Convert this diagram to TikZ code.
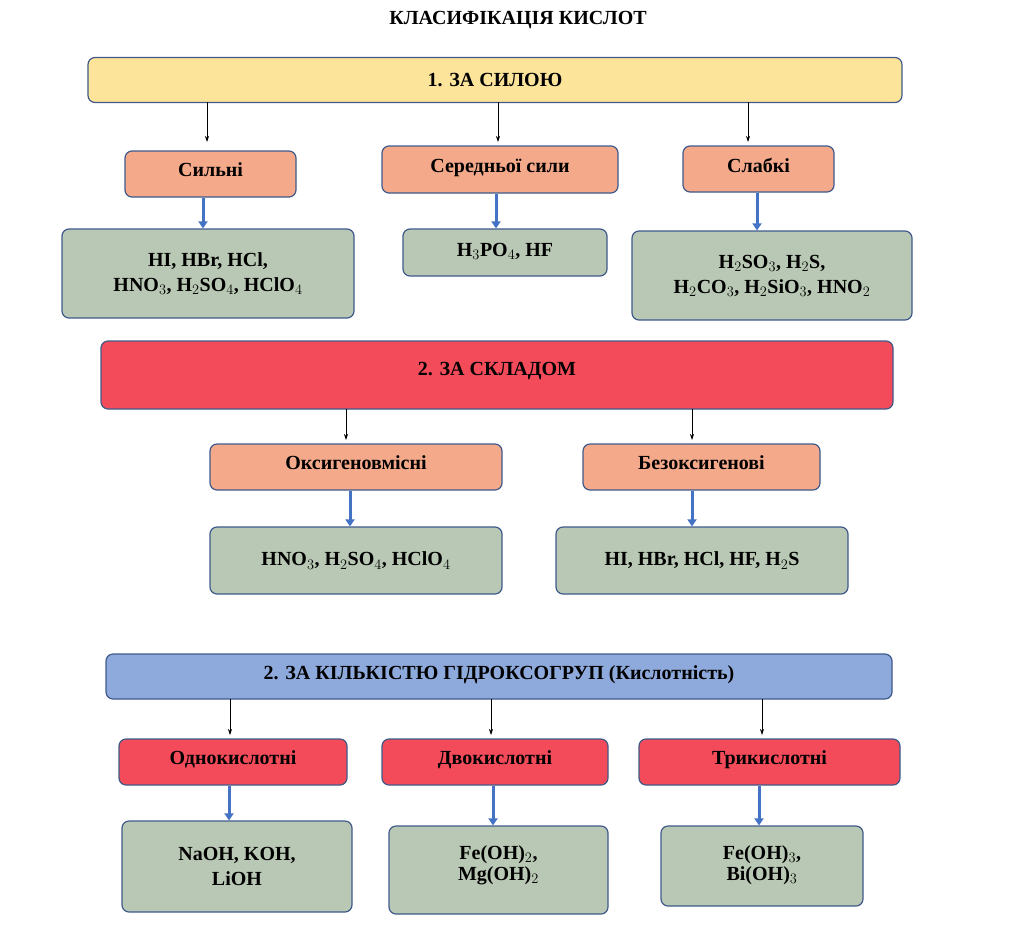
\documentclass[tikz,border=0pt]{standalone}
\usepackage{fontspec}
\setmainfont{Liberation Serif}
\usetikzlibrary{arrows.meta,positioning}
\definecolor{hdryel}{HTML}{FCE49A}
\definecolor{hdrred}{HTML}{F44B5A}
\definecolor{hdrblue}{HTML}{8EA9DB}
\definecolor{salmon}{HTML}{F4A98A}
\definecolor{sage}{HTML}{B9C8B4}
\definecolor{edge}{HTML}{3F5A8A}
\definecolor{thick}{HTML}{4472C4}

\begin{document}
\begin{tikzpicture}[x=1pt,y=-1pt,font=\fontsize{20}{25}\selectfont\bfseries,
  box/.style={draw=edge, line width=1.2pt, rounded corners=7pt, inner sep=0pt, align=center},
  thin/.style={-{Stealth[length=6pt,width=4pt]}, line width=0.7pt},
  fat/.style={-{Triangle[length=7pt,width=9pt]}, line width=3pt, draw=thick}]

\useasboundingbox (0,0) rectangle (1024,927);

\node (title) at (518,20) {КЛАСИФІКАЦІЯ КИСЛОТ};

% 1. за силою
\node[box, fill=hdryel, minimum width=814pt, minimum height=45pt] (h1) at (495,80) {1. ЗА СИЛОЮ};
\node[box, fill=salmon, minimum width=171pt, minimum height=46pt] (s1) at (210.5,174) {\raisebox{8pt}{Сильні}};
\node[box, fill=salmon, minimum width=236pt, minimum height=47pt] (s2) at (500,169.5) {\raisebox{8pt}{Середньої сили}};
\node[box, fill=salmon, minimum width=151pt, minimum height=46pt] (s3) at (758.5,169) {\raisebox{8pt}{Слабкі}};
\node[box, fill=sage, minimum width=292pt, minimum height=89pt] (f1) at (208,273.5) {HI, HBr, HCl,\\HNO$_3$, H$_2$SO$_4$, HClO$_4$};
\node[box, fill=sage, minimum width=204pt, minimum height=47pt] (f2) at (505,252.5) {\raisebox{6pt}{H$_3$PO$_4$, HF}};
\node[box, fill=sage, minimum width=280pt, minimum height=89pt] (f3) at (772,275.5) {H$_2$SO$_3$, H$_2$S,\\H$_2$CO$_3$, H$_2$SiO$_3$, HNO$_2$};

\draw[thin] (207,102) -- (207,142);
\draw[thin] (498,102) -- (498,142);
\draw[thin] (748,102) -- (748,142);
\draw[fat] (s1.south -| 203,0) -- (f1.north -| 203,0);
\draw[fat] (s2.south -| 496,0) -- (f2.north -| 496,0);
\draw[fat] (s3.south -| 757,0) -- (f3.north -| 757,0);

% 2. за складом
\node[box, fill=hdrred, minimum width=792pt, minimum height=68pt] (h2) at (497,375) {\raisebox{12pt}{2. ЗА СКЛАДОМ}};
\node[box, fill=salmon, minimum width=292pt, minimum height=46pt] (o1) at (356,467) {\raisebox{8pt}{Оксигеновмісні}};
\node[box, fill=salmon, minimum width=237pt, minimum height=46pt] (o2) at (701.5,467) {\raisebox{8pt}{Безоксигенові}};
\node[box, fill=sage, minimum width=292pt, minimum height=67pt] (g1) at (356,560.5) {HNO$_3$, H$_2$SO$_4$, HClO$_4$};
\node[box, fill=sage, minimum width=292pt, minimum height=67pt] (g2) at (702,560.5) {HI, HBr, HCl, HF, H$_2$S};

\draw[thin] (346,409) -- (346,440);
\draw[thin] (692,409) -- (692,440);
\draw[fat] (o1.south -| 350,0) -- (g1.north -| 350,0);
\draw[fat] (o2.south -| 692,0) -- (g2.north -| 692,0);

% 3. за кількістю гідроксогруп
\node[box, fill=hdrblue, minimum width=786pt, minimum height=45pt] (h3) at (499,676.5) {\raisebox{8pt}{2. ЗА КІЛЬКІСТЮ ГІДРОКСОГРУП (Кислотність)}};
\node[box, fill=hdrred, minimum width=228pt, minimum height=46pt] (k1) at (233,762) {\raisebox{8pt}{Однокислотні}};
\node[box, fill=hdrred, minimum width=226pt, minimum height=46pt] (k2) at (495,762) {\raisebox{8pt}{Двокислотні}};
\node[box, fill=hdrred, minimum width=261pt, minimum height=46pt] (k3) at (769.5,762) {\raisebox{8pt}{Трикислотні}};
\node[box, fill=sage, minimum width=230pt, minimum height=91pt] (b1) at (237,866.5) {NaOH, KOH,\\LiOH};
\node[box, fill=sage, minimum width=219pt, minimum height=88pt] (b2) at (498.5,870) {\raisebox{14pt}{\shortstack{Fe(OH)$_2$,\\Mg(OH)$_2$}}};
\node[box, fill=sage, minimum width=202pt, minimum height=80pt] (b3) at (762,866) {\raisebox{6pt}{\shortstack{Fe(OH)$_3$,\\Bi(OH)$_3$}}};

\draw[thin] (230,699) -- (230,735);
\draw[thin] (491,699) -- (491,735);
\draw[thin] (762,699) -- (762,735);
\draw[fat] (k1.south -| 229,0) -- (b1.north -| 229,0);
\draw[fat] (k2.south -| 493,0) -- (b2.north -| 493,0);
\draw[fat] (k3.south -| 759,0) -- (b3.north -| 759,0);
\end{tikzpicture}
\end{document}
